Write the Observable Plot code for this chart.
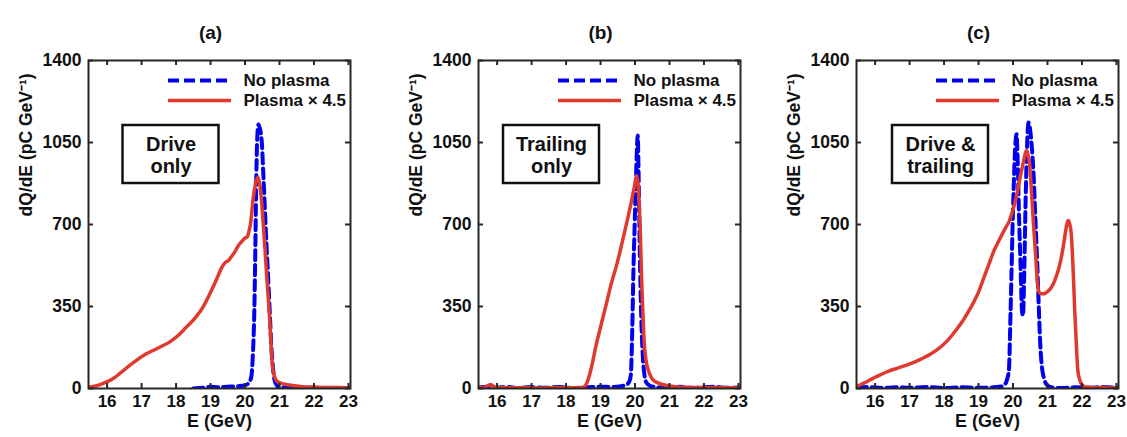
<!DOCTYPE html>
<html><head><meta charset="utf-8">
<script src="https://cdn.jsdelivr.net/npm/d3@7"></script>
<script src="https://cdn.jsdelivr.net/npm/@observablehq/plot@0.6"></script>
<style>
body{margin:0;background:#fff;}
#wrap{position:relative;width:1127px;height:437px;font-family:"Liberation Sans",Arial,sans-serif;}
#wrap svg{position:absolute;top:0;}
</style></head><body><div id="wrap"></div>
<script>
// ---------- data ----------
const panelTitles = ["(a)", "(b)", "(c)"];
const boxLabels = ["Drive\nonly", "Trailing\nonly", "Drive &\ntrailing"];
const seriesNames = ["No plasma", "Plasma \u00d7 4.5"];
const xTicks = [16, 17, 18, 19, 20, 21, 22, 23];
const yTicks = [0, 350, 700, 1050, 1400];
const xLabel = "E (GeV)";
const yLabel = "dQ/dE (pC GeV\u207b\u00b9)";

// panel (a) drive only
const aNoPlasmaE = [18.5,18.8,19.0,19.2,19.5,19.8,20.0,20.1,20.18,20.23,20.27,20.3,20.32,20.35,20.39,20.43,20.49,20.53,20.57,20.62,20.67,20.72,20.76,20.81,20.86,20.93,21.0,21.2,21.6];
const aNoPlasmaQ = [0,3,8,5,8,10,14,22,48,150,333,600,830,1050,1127,1110,1044,920,788,620,475,320,190,90,34,12,6,3,1];
const aPlasmaE = [15.46,15.7,15.97,16.2,16.36,16.6,16.85,17.1,17.33,17.55,17.81,18.05,18.3,18.55,18.78,18.95,19.07,19.2,19.36,19.45,19.51,19.6,19.7,19.8,19.89,19.98,20.07,20.12,20.16,20.23,20.3,20.37,20.43,20.47,20.52,20.57,20.63,20.7,20.75,20.79,20.85,20.91,21.05,21.2,21.45,21.68,22.0,22.4,22.7,23.05];
const aPlasmaQ = [5,12,27,45,63,92,120,145,162,178,198,225,262,300,347,395,432,475,525,540,545,562,582,608,625,640,648,675,703,802,870,902,870,817,720,617,480,333,200,105,55,34,22,17,12,8,6,4,4,3];

// panel (b) trailing only
const bNoPlasmaE = [15.47,15.7,16.0,16.3,16.6,17.0,17.4,17.8,18.2,18.6,19.0,19.3,19.6,19.79,19.85,19.88,19.92,19.95,19.99,20.03,20.06,20.08,20.1,20.12,20.15,20.19,20.23,20.27,20.33,20.42,20.6,20.9,21.3,21.7,22.0,22.3,22.6,23.05];
const bNoPlasmaQ = [4,8,3,7,2,6,3,6,2,5,8,6,10,20,35,60,250,475,700,902,1040,1080,950,760,500,262,130,63,25,13,6,3,7,2,6,8,3,4];
const bPlasmaE = [15.47,15.65,15.81,15.95,16.3,16.8,17.3,17.8,18.2,18.45,18.54,18.62,18.69,18.78,18.88,18.98,19.07,19.17,19.26,19.35,19.45,19.55,19.64,19.74,19.84,19.92,19.98,20.05,20.09,20.12,20.16,20.19,20.23,20.27,20.31,20.36,20.43,20.5,20.65,20.79,21.0,21.17,21.5,22.0,22.5,23.05];
const bPlasmaQ = [3,5,17,5,3,4,2,4,3,4,8,30,63,120,190,250,304,362,418,468,518,575,632,695,760,815,860,909,870,788,640,475,320,190,130,91,60,41,25,17,11,8,5,4,4,3];

// panel (c) drive & trailing
const cNoPlasmaE = [15.47,15.8,16.2,16.6,17.0,17.5,18.0,18.5,19.0,19.5,19.7,19.78,19.83,19.88,19.93,20.0,20.07,20.1,20.13,20.17,20.22,20.26,20.29,20.32,20.36,20.4,20.45,20.5,20.54,20.6,20.65,20.7,20.74,20.79,20.84,20.89,20.94,21.0,21.1,21.4,21.8,22.2,22.6,23.05];
const cNoPlasmaQ = [3,6,2,5,3,6,2,5,3,6,10,20,40,77,333,760,1044,1085,1000,760,520,333,311,450,760,1000,1135,1100,1040,902,720,546,380,190,90,48,25,13,5,2,5,3,6,2];
const cPlasmaE = [15.47,15.53,15.7,15.91,16.15,16.39,16.63,16.87,17.1,17.35,17.6,17.83,18.07,18.3,18.55,18.78,18.98,19.16,19.3,19.45,19.57,19.69,19.8,19.88,19.95,20.02,20.1,20.17,20.24,20.31,20.36,20.39,20.43,20.48,20.54,20.6,20.66,20.71,20.76,20.81,20.9,20.98,21.08,21.17,21.27,21.36,21.44,21.5,21.56,21.6,21.64,21.69,21.74,21.79,21.84,21.88,21.93,21.98,22.05,22.12,22.4,22.6,22.8,23.05];
const cPlasmaQ = [8,13,25,41,58,74,86,98,110,127,146,169,200,240,290,347,405,475,530,589,625,660,690,710,740,774,820,874,925,973,1005,1016,1000,959,830,689,560,447,410,404,404,411,425,447,485,532,590,646,700,717,705,660,520,333,180,77,40,20,10,6,3,5,2,4];

// ---------- drawing ----------
const FONT = '"Liberation Sans", Arial, Helvetica, sans-serif';
const BLUE = "#0000ee", RED = "#e0392d", AXIS = "#262626";
const xDomain = [15.46, 23.06], yDomain = [0, 1400];
const frameW = 262, frameH = 328, mT = 60, mB = 49, mL = 88;

function rows(E, Q) { return E.map((e, j) => ({E: e, Q: Q[j]})); }

function panel(idx, noE, noQ, plE, plQ, svgLeft, svgWidth, boxLeft) {
  const fx = p => xDomain[0] + p * (xDomain[1] - xDomain[0]) / frameW; // px from frame left -> E
  const fy = p => yDomain[1] - p * (yDomain[1] - yDomain[0]) / frameH; // px from frame top -> Q
  const tickLenY = 5 * (yDomain[1] - yDomain[0]) / frameH;
  const tickLenX = 5 * (xDomain[1] - xDomain[0]) / frameW;
  const txt = {fontFamily: FONT, fontWeight: "bold", fill: "#111"};
  const lg1 = fy(20), lg2 = fy(40);
  const svg = Plot.plot({
    width: svgWidth, height: 437,
    marginLeft: mL, marginRight: svgWidth - mL - frameW, marginTop: mT, marginBottom: mB,
    x: {domain: xDomain}, y: {domain: yDomain},
    style: {background: "transparent", fontFamily: FONT, fontSize: "16px", overflow: "visible"},
    marks: [
      Plot.line(rows(noE, noQ), {x: "E", y: "Q", stroke: BLUE, strokeWidth: 4, strokeDasharray: "10,5", curve: "monotone-x", clip: true}),
      Plot.line(rows(plE, plQ), {x: "E", y: "Q", stroke: RED, strokeWidth: 3.5, curve: "monotone-x", clip: true}),
      // inward ticks
      Plot.ruleX(xTicks, {x: d => d, y1: yDomain[0], y2: yDomain[0] + tickLenY, stroke: AXIS, strokeWidth: 2}),
      Plot.ruleX(xTicks, {x: d => d, y1: yDomain[1], y2: yDomain[1] - tickLenY, stroke: AXIS, strokeWidth: 2}),
      Plot.ruleY(yTicks, {y: d => d, x1: xDomain[0], x2: xDomain[0] + tickLenX, stroke: AXIS, strokeWidth: 2}),
      Plot.ruleY(yTicks, {y: d => d, x1: xDomain[1], x2: xDomain[1] - tickLenX, stroke: AXIS, strokeWidth: 2}),
      Plot.frame({stroke: AXIS, strokeWidth: 2}),
      Plot.axisX({ticks: xTicks, tickSize: 0, tickPadding: 6, label: null, tickFormat: d => String(d), fontSize: "17px", fontWeight: "bold", fill: "#111"}),
      Plot.axisY({ticks: yTicks, tickSize: 0, tickPadding: 7, label: null, tickFormat: d => String(d), fontSize: "17.5px", fontWeight: "bold", fill: "#111"}),
      Plot.text([xLabel], {frameAnchor: "bottom", dy: 38, fontSize: "18px", ...txt}),
      Plot.text([yLabel], {frameAnchor: "left", rotate: -90, dx: -62, dy: -8, fontSize: "17.5px", ...txt}),
      Plot.text([panelTitles[idx]], {frameAnchor: "top", dx: -9, dy: -35, fontSize: "19px", ...txt}),
      // annotation box
      Plot.rect([boxLabels[idx]], {x1: fx(boxLeft), x2: fx(boxLeft + 96), y1: fy(123), y2: fy(65), fill: "white", stroke: "#111", strokeWidth: 2.5}),
      Plot.text([boxLabels[idx]], {x: fx(boxLeft + 48), y: fy(94), fontSize: "20px", lineHeight: 1.1, ...txt}),
      // legend
      Plot.ruleY([lg1], {y: d => d, x1: fx(frameW - 182), x2: fx(frameW - 119), stroke: BLUE, strokeWidth: 4, strokeDasharray: "11,5"}),
      Plot.ruleY([lg2], {y: d => d, x1: fx(frameW - 182), x2: fx(frameW - 119), stroke: RED, strokeWidth: 3.5}),
      Plot.text([seriesNames[0]], {x: fx(frameW - 107), y: lg1, textAnchor: "start", fontSize: "17px", ...txt}),
      Plot.text([seriesNames[1]], {x: fx(frameW - 107), y: lg2, textAnchor: "start", fontSize: "17px", ...txt})
    ]
  });
  svg.style.left = svgLeft + "px";
  document.getElementById("wrap").appendChild(svg);
}

panel(0, aNoPlasmaE, aNoPlasmaQ, aPlasmaE, aPlasmaQ, 0, 380, 34.5);
panel(1, bNoPlasmaE, bNoPlasmaQ, bPlasmaE, bPlasmaQ, 390, 375, 25);
panel(2, cNoPlasmaE, cNoPlasmaQ, cPlasmaE, cPlasmaQ, 768, 359, 36);
</script></body></html>
